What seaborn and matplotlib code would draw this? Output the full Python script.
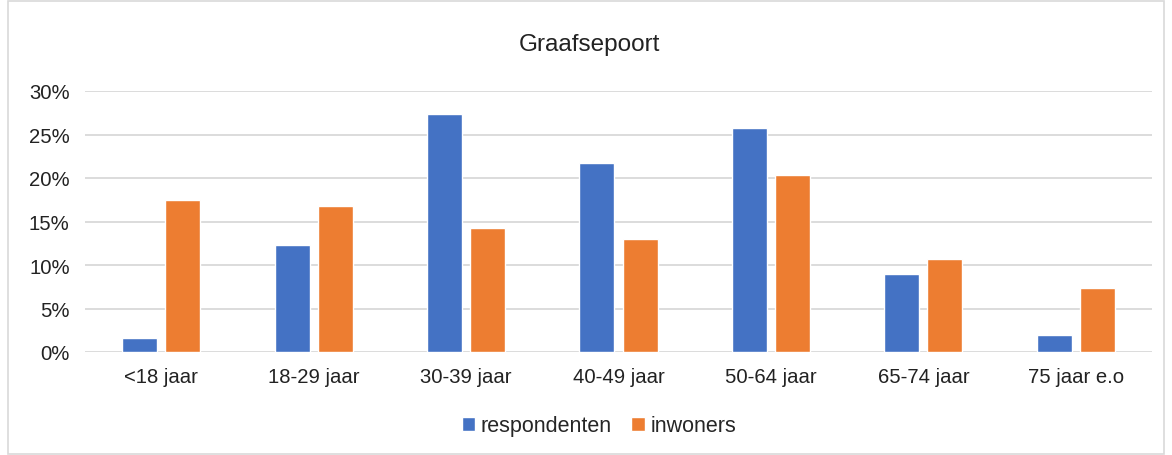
import pandas as pd
import seaborn as sns
import matplotlib.pyplot as plt
from matplotlib.patches import Rectangle
from matplotlib.ticker import PercentFormatter

categories = ["<18 jaar", "18-29 jaar", "30-39 jaar", "40-49 jaar", "50-64 jaar", "65-74 jaar", "75 jaar e.o"]
respondenten = [0.016, 0.123, 0.274, 0.217, 0.257, 0.090, 0.020]
inwoners = [0.175, 0.168, 0.143, 0.130, 0.203, 0.107, 0.073]
series_names = ["respondenten", "inwoners"]
colors = ["#4472C4", "#ED7D31"]

df = pd.DataFrame({
    "categorie": categories * 2,
    "waarde": respondenten + inwoners,
    "reeks": [series_names[0]] * len(categories) + [series_names[1]] * len(categories),
})

sns.set_theme(style="white")
plt.rcParams['font.family'] = ['Liberation Sans', 'DejaVu Sans']

fig = plt.figure(figsize=(11.72, 4.56), dpi=100)
ax = fig.add_axes([85 / 1172, 1 - 353 / 456, 1067 / 1172, 261 / 456])

sns.barplot(data=df, x="categorie", y="waarde", hue="reeks", palette=colors,
            width=0.566, gap=0.19, saturation=1, ax=ax, zorder=3)

ax.set_ylim(0, 0.30)
ax.set_yticks([0, 0.05, 0.10, 0.15, 0.20, 0.25, 0.30])
ax.yaxis.set_major_formatter(PercentFormatter(1.0, decimals=0))
ax.grid(axis="y", color="#D9D9D9", linewidth=1.3, zorder=0)
ax.set_axisbelow(True)
for s in ax.spines.values():
    s.set_visible(False)
ax.tick_params(axis="both", length=0, labelsize=14.6, colors="#222222")
ax.tick_params(axis="y", pad=11)
ax.tick_params(axis="x", pad=11)
ax.set_xlabel("")
ax.set_ylabel("")

fig.text(0.503, 1 - 45 / 456, "Graafsepoort", ha="center", va="center", fontsize=17.5, color="#222222")

handles, labels = ax.get_legend_handles_labels()
ax.legend(handles, labels, loc="center", bbox_to_anchor=(599 / 1172, 1 - 427 / 456),
          bbox_transform=fig.transFigure, ncol=2, frameon=False, fontsize=15.5,
          handlelength=0.65, handleheight=0.65, handletextpad=0.25, columnspacing=0.9)

fig.patches.append(Rectangle((8 / 1172, 0.002), 1 - 16 / 1172, 0.994, transform=fig.transFigure,
                             fill=False, edgecolor="#D9D9D9", linewidth=1.2))

fig.savefig("out.png", dpi=100)
